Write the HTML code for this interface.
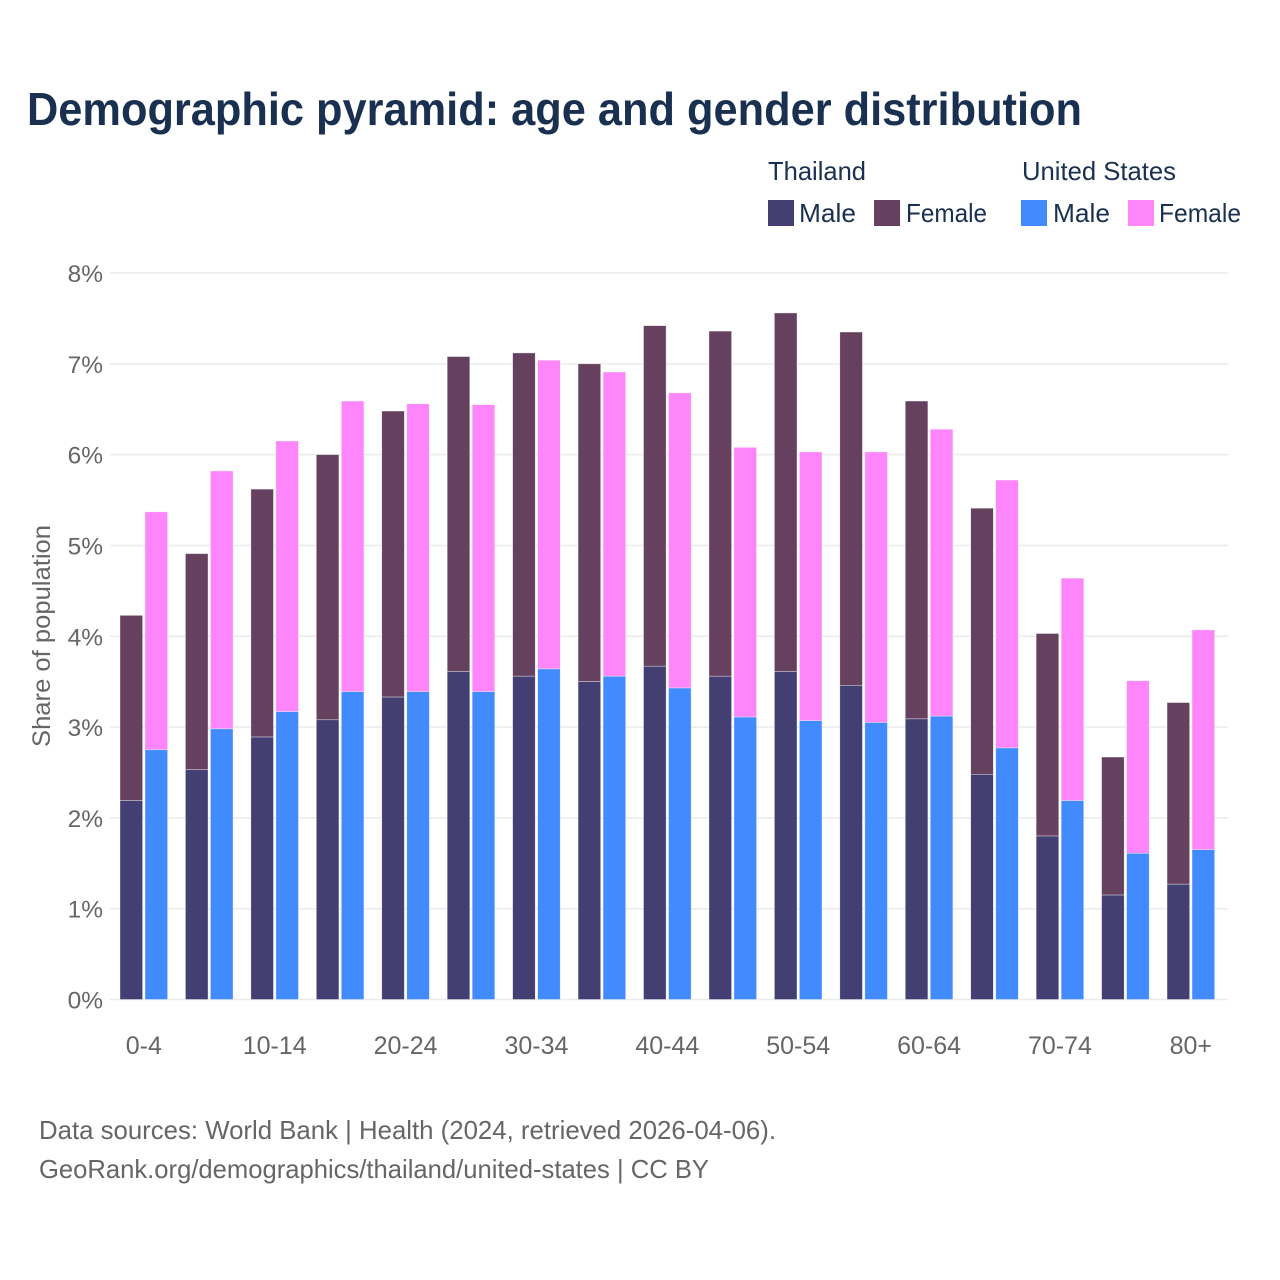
<!DOCTYPE html>
<html lang="en">
<head>
<meta charset="utf-8">
<title>Demographic pyramid: age and gender distribution</title>
<style>
html,body{margin:0;padding:0;background:#fff;}
svg{display:block;font-family:"Liberation Sans",Arial,sans-serif;}
</style>
</head>
<body>
<svg id="chart" width="1280" height="1280" viewBox="0 0 1280 1280" xmlns="http://www.w3.org/2000/svg">
  <rect width="1280" height="1280" fill="#ffffff"/>
  <text x="27" y="125" font-size="46" font-weight="700" fill="#1a3050" textLength="1055" lengthAdjust="spacingAndGlyphs">Demographic pyramid: age and gender distribution</text>

  <g font-size="26" fill="#1a3050">
    <text x="768" y="180" textLength="98" lengthAdjust="spacingAndGlyphs">Thailand</text>
    <text x="1022" y="180" textLength="154" lengthAdjust="spacingAndGlyphs">United States</text>
    <rect x="768" y="200" width="26" height="26" fill="#433f72"/>
    <text x="799" y="222" textLength="57" lengthAdjust="spacingAndGlyphs">Male</text>
    <rect x="874" y="200" width="26" height="26" fill="#66415f"/>
    <text x="906" y="222" textLength="81" lengthAdjust="spacingAndGlyphs">Female</text>
    <rect x="1021" y="200" width="26" height="26" fill="#418bff"/>
    <text x="1053" y="222" textLength="57" lengthAdjust="spacingAndGlyphs">Male</text>
    <rect x="1128" y="200" width="26" height="26" fill="#ff85fb"/>
    <text x="1159" y="222" textLength="82" lengthAdjust="spacingAndGlyphs">Female</text>
  </g>

  <g id="grid"></g>
  <g id="bars"></g>
  <g id="yticks"></g>
  <g id="xticks"></g>

  <text transform="translate(50,636) rotate(-90)" text-anchor="middle" font-size="25" fill="#666666" textLength="222" lengthAdjust="spacingAndGlyphs">Share of population</text>

  <text x="39" y="1139" font-size="26" fill="#666666" textLength="737" lengthAdjust="spacingAndGlyphs">Data sources: World Bank | Health (2024, retrieved 2026-04-06).</text>
  <text x="39" y="1178" font-size="26" fill="#666666" textLength="670" lengthAdjust="spacingAndGlyphs">GeoRank.org/demographics/thailand/united-states | CC BY</text>
</svg>
<script>
const ageGroups = ["0-4","5-9","10-14","15-19","20-24","25-29","30-34","35-39","40-44","45-49","50-54","55-59","60-64","65-69","70-74","75-79","80+"];
const thailandMale = [2.19,2.53,2.89,3.08,3.33,3.61,3.56,3.50,3.67,3.56,3.61,3.46,3.09,2.48,1.80,1.15,1.27];
const thailandFemale = [2.04,2.38,2.73,2.92,3.15,3.47,3.56,3.50,3.75,3.80,3.95,3.89,3.50,2.93,2.23,1.52,2.00];
const usMale = [2.75,2.98,3.17,3.39,3.39,3.39,3.64,3.56,3.43,3.11,3.07,3.05,3.12,2.77,2.19,1.61,1.65];
const usFemale = [2.62,2.84,2.98,3.20,3.17,3.16,3.40,3.35,3.25,2.97,2.96,2.98,3.16,2.95,2.45,1.90,2.42];
const yTickValues = [0,1,2,3,4,5,6,7,8];
const yTickLabels = ["0%","1%","2%","3%","4%","5%","6%","7%","8%"];
const xTickLabels = ["0-4","10-14","20-24","30-34","40-44","50-54","60-64","70-74","80+"];

const NS = "http://www.w3.org/2000/svg";
const plot = {left:110, right:1228, top:273, bottom:999.5, yMax:8, band:65.44, firstBar:120, barW:22.6, barGap:25};
function yScale(v){ return plot.bottom - (v / plot.yMax) * (plot.bottom - plot.top); }
function xScale(i, s){ return plot.firstBar + i * plot.band + s * plot.barGap; }
function make(tag, parent, attrs){
  const el = document.createElementNS(NS, tag);
  for (const k in attrs) el.setAttribute(k, attrs[k]);
  parent.appendChild(el);
  return el;
}
const gridG = document.getElementById("grid");
const barsG = document.getElementById("bars");
const yG = document.getElementById("yticks");
const xG = document.getElementById("xticks");

yTickValues.forEach(function(v, i){
  const line = make("line", gridG, {x1:plot.left, x2:plot.right, y1:yScale(v), y2:yScale(v), stroke:"#ebebeb", "stroke-width":1.5});
  
  
  const t = make("text", yG, {x:103, y:yScale(v)+9, "text-anchor":"end", "font-size":24.5, fill:"#666666"});
  
  
  t.textContent = yTickLabels[i];
});

function drawSeries(lower, upper, slot, lowerColor, upperColor){
  lower.forEach(function(v, i){
    const total = v + upper[i];
    const x = xScale(i, slot);
    const top = make("rect", barsG, {x:x, y:yScale(total), width:plot.barW, height:yScale(v)-yScale(total), fill:upperColor, stroke:"#ffffff", "stroke-opacity":0.6, "stroke-width":0.6});
    
    
    const bottom = make("rect", barsG, {x:x, y:yScale(v), width:plot.barW, height:yScale(0)-yScale(v), fill:lowerColor, stroke:"#ffffff", "stroke-opacity":0.6, "stroke-width":0.6});
    
    
  });
}
drawSeries(thailandMale, thailandFemale, 0, "#433f72", "#66415f");
drawSeries(usMale, usFemale, 1, "#418bff", "#ff85fb");

xTickLabels.forEach(function(label){
  const i = ageGroups.indexOf(label);
  const t = make("text", xG, {x:xScale(i, 0) + (plot.barGap + plot.barW) / 2, y:1054, "text-anchor":"middle", "font-size":25, fill:"#666666"});
  
  
  t.textContent = label;
});
</script>
</body>
</html>
